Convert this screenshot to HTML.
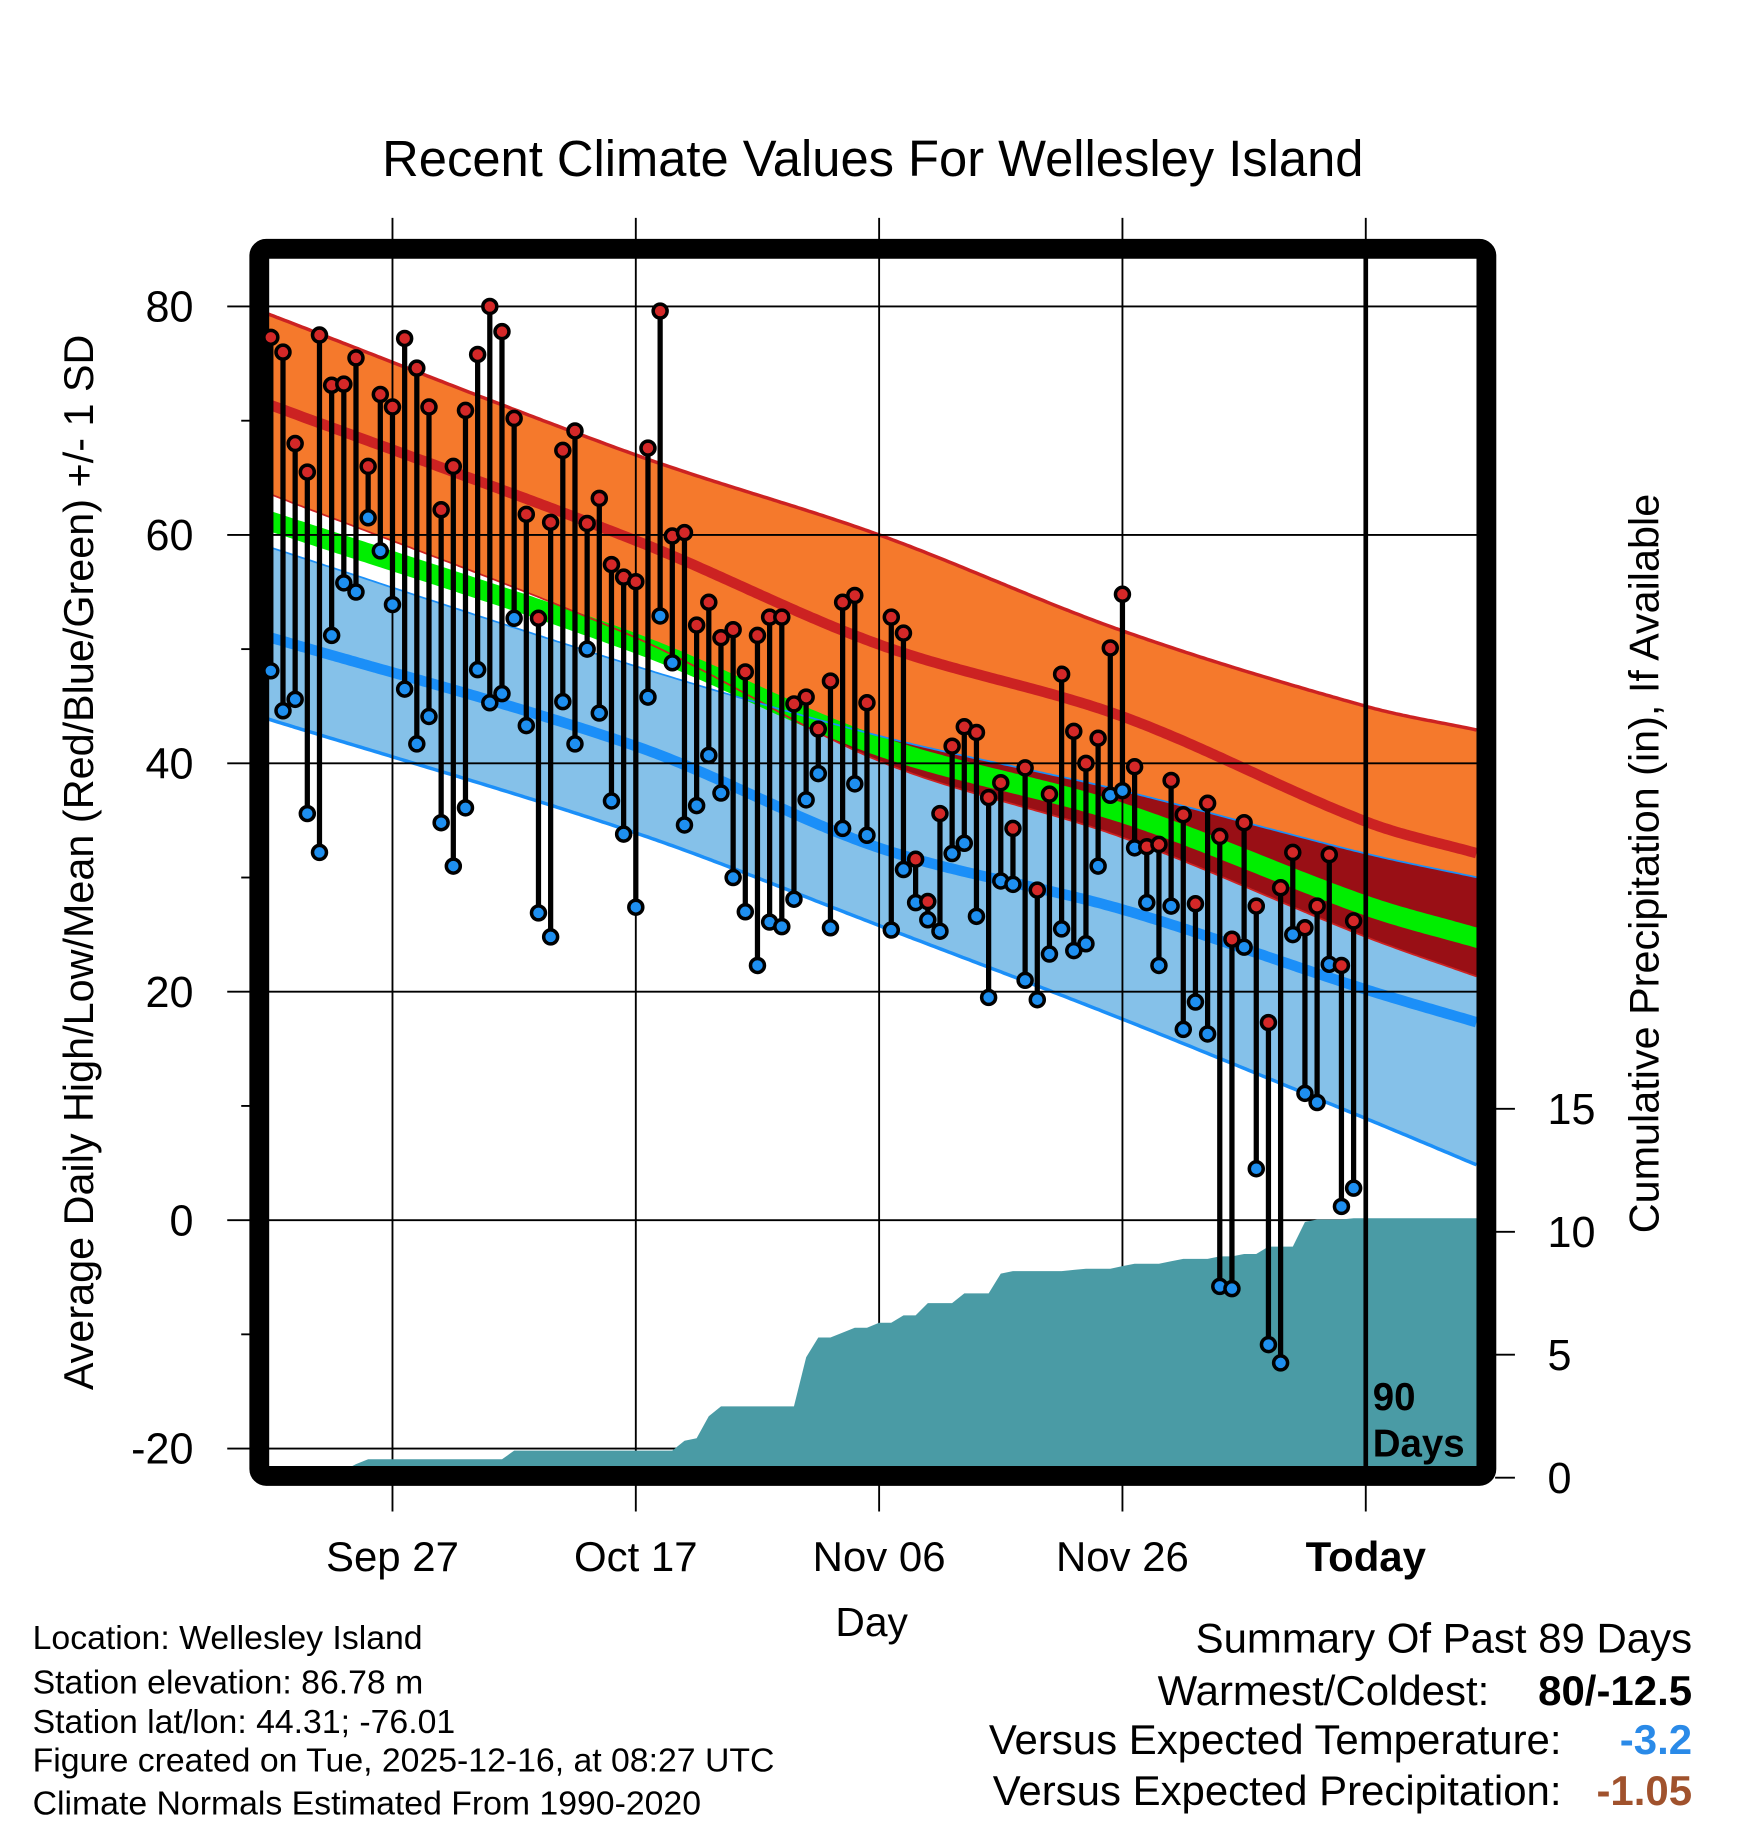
<!DOCTYPE html>
<html><head><meta charset="utf-8"><style>
html,body{margin:0;padding:0;background:#fff;}
svg{display:block;font-family:"Liberation Sans",Arial,sans-serif;}
</style></head><body>
<svg id="chart" width="1748" height="1828" viewBox="0 0 1500 1568.6" preserveAspectRatio="none" xmlns="http://www.w3.org/2000/svg">
<text x="749" y="151" font-size="43.5" text-anchor="middle">Recent Climate Values For Wellesley Island</text>
<g id="bands"></g>
<g id="grid"></g>
<g id="precip"></g>
<g id="frame"></g>
<g id="marks"></g>
<g id="labels"></g>
<text transform="translate(80,740) rotate(-90)" font-size="35.5" text-anchor="middle">Average Daily High/Low/Mean (Red/Blue/Green) +/- 1 SD</text>
<text transform="translate(1423,741) rotate(-90)" font-size="35.5" text-anchor="middle">Cumulative Precipitation (in), If Available</text>
<text x="748" y="1404" font-size="35" text-anchor="middle">Day</text>
<g font-size="29">
<text x="28" y="1415">Location: Wellesley Island</text>
<text x="28" y="1453">Station elevation: 86.78 m</text>
<text x="28" y="1487">Station lat/lon: 44.31; -76.01</text>
<text x="28" y="1520">Figure created on Tue, 2025-12-16, at 08:27 UTC</text>
<text x="28" y="1557">Climate Normals Estimated From 1990-2020</text>
</g>
<g font-size="36">
<text x="1452" y="1418" text-anchor="end">Summary Of Past 89 Days</text>
<text x="1278" y="1463" text-anchor="end">Warmest/Coldest:</text>
<text x="1452" y="1463" text-anchor="end" font-weight="bold">80/-12.5</text>
<text x="1340" y="1505" text-anchor="end">Versus Expected Temperature:</text>
<text x="1452" y="1505" text-anchor="end" font-weight="bold" fill="#2a8ae8">-3.2</text>
<text x="1340" y="1549" text-anchor="end">Versus Expected Precipitation:</text>
<text x="1452" y="1549" text-anchor="end" font-weight="bold" fill="#a0522d">-1.05</text>
</g>
</svg>
<script>
// ---- data ----
const normDays   = [-90.6, -60, -40, -20, 0, 9.2];
const highPlus   = [79.5, 67, 60, 51.6, 45, 42.9];
const highMean   = [71.6, 59.5, 50.4, 44.1, 34.9, 32.1];
const highMinus  = [63.8, 51, 40.2, 33.5, 24.8, 21.3];
const lowPlus    = [59.1, 48.5, 42.4, 37.6, 32.1, 30.0];
const lowMean    = [51.2, 41.5, 32.6, 27.2, 20.2, 17.3];
const lowMinus   = [44.0, 33.9, 25.8, 17.6, 8.9, 4.8];
const dayHigh = [77.3,76,68,65.5,77.5,73.1,73.2,75.5,66,72.3,71.2,77.2,74.6,71.2,62.2,66,70.9,75.8,80,77.8,70.2,61.8,52.7,61.1,67.4,69.1,61,63.2,57.4,56.3,55.9,67.6,79.6,59.9,60.2,52.1,54.1,51,51.7,48,51.2,52.8,52.8,45.2,45.8,43,47.2,54.1,54.7,45.3,null,52.8,51.4,31.6,27.9,35.6,41.5,43.2,42.7,37,38.3,34.3,39.6,28.9,37.3,47.8,42.8,40,42.2,50.1,54.8,39.7,32.7,32.9,38.5,35.5,27.7,36.5,33.6,24.6,34.8,27.5,17.3,29.1,32.2,25.6,27.5,32,22.3,26.2];
const dayLow = [48.1,44.6,45.6,35.6,32.2,51.2,55.8,55,61.5,58.6,53.9,46.5,41.7,44.1,34.8,31,36.1,48.2,45.3,46.1,52.7,43.3,26.9,24.8,45.4,41.7,50,44.4,36.7,33.8,27.4,45.8,52.9,48.8,34.6,36.3,40.7,37.4,30,27,22.3,26.1,25.7,28.1,36.8,39.1,25.6,34.3,38.2,33.7,null,25.4,30.7,27.8,26.3,25.3,32.1,33,26.6,19.5,29.7,29.4,21,19.3,23.3,25.5,23.6,24.2,31,37.2,37.6,32.6,27.8,22.3,27.5,16.7,19.1,16.3,-5.8,-6,23.9,4.5,-10.9,-12.5,25,11.1,10.3,22.4,1.2,2.8];
const cumPrecip = [0,0,0,0,0,0.05,0.3,0.55,0.75,0.75,0.75,0.75,0.75,0.75,0.75,0.75,0.75,0.75,0.75,0.75,1.1,1.1,1.1,1.1,1.1,1.1,1.1,1.1,1.1,1.1,1.1,1.1,1.1,1.1,1.5,1.6,2.5,2.9,2.9,2.9,2.9,2.9,2.9,2.9,4.9,5.7,5.7,5.9,6.1,6.1,6.3,6.3,6.6,6.6,7.1,7.1,7.1,7.5,7.5,7.5,8.3,8.4,8.4,8.4,8.4,8.4,8.45,8.5,8.5,8.5,8.6,8.7,8.7,8.7,8.8,8.9,8.9,8.9,9.0,9.0,9.1,9.1,9.4,9.4,9.4,10.4,10.5,10.5,10.5,10.55];
const yTicks = [80,60,40,20,0,-20];
const yMinor = [70,50,30,10,-10];
const pTicks = [0,5,10,15];
const xTickDays = [-80,-60,-40,-20,0];
const xTickLabels = ["Sep 27","Oct 17","Nov 06","Nov 26","Today"];

// ---- scales ----
const X0=226, X1=1268;
const xs = d => 1172 + d*10.44;
const ys = v => 1047 - 9.8*v;
const yp = p => 1268 - 21.1*p;
const NS="http://www.w3.org/2000/svg";
function mk(tag, attrs, parent){const e=document.createElementNS(NS,tag);for(const k in attrs)e.setAttribute(k,attrs[k]);parent.appendChild(e);return e;}
// smooth cubic Hermite interpolation through anchors
function interp(arr,d){
  const n=normDays.length;
  let i=0; while(i<n-2 && d>normDays[i+1]) i++;
  const x0=normDays[i], x1=normDays[i+1], h=x1-x0;
  const slope=k=>{
    if(k===0) return (arr[1]-arr[0])/(normDays[1]-normDays[0]);
    if(k===n-1) return (arr[n-1]-arr[n-2])/(normDays[n-1]-normDays[n-2]);
    return (arr[k+1]-arr[k-1])/(normDays[k+1]-normDays[k-1]);
  };
  const t=(d-x0)/h, m0=slope(i)*h, m1=slope(i+1)*h;
  const t2=t*t, t3=t2*t;
  return (2*t3-3*t2+1)*arr[i]+(t3-2*t2+t)*m0+(-2*t3+3*t2)*arr[i+1]+(t3-t2)*m1;
}
const samples=[];for(let x=X0;x<=X1+0.01;x+=3)samples.push(x);
const dOf = x => (x-1172)/10.44;
function bandPath(fTop,fBot){let p="";samples.forEach((x,i)=>{p+=(i?"L":"M")+x.toFixed(1)+","+ys(fTop(dOf(x))).toFixed(1);});for(let i=samples.length-1;i>=0;i--){const x=samples[i];p+="L"+x.toFixed(1)+","+ys(fBot(dOf(x))).toFixed(1);}return p+"Z";}
function linePath(f){let p="";samples.forEach((x,i)=>{p+=(i?"L":"M")+x.toFixed(1)+","+ys(f(dOf(x))).toFixed(1);});return p;}

const bands=document.getElementById('bands');
let e;
e=mk('path',{d:bandPath(d=>interp(lowPlus,d),d=>interp(lowMinus,d)),fill:'#85c1e9'},bands);

e=mk('path',{d:bandPath(d=>interp(highPlus,d),d=>interp(highMinus,d)),fill:'#f5792c'},bands);

e=mk('path',{d:bandPath(d=>Math.max(interp(lowPlus,d),interp(highMinus,d)),d=>interp(highMinus,d)),fill:'#990f15'},bands);

const meanF=d=>(interp(highMean,d)+interp(lowMean,d))/2;
e=mk('path',{d:bandPath(d=>meanF(d)+0.9,d=>meanF(d)-0.9),fill:'#00ee00'},bands);

e=mk('path',{d:linePath(d=>interp(highMean,d)),fill:'none',stroke:'#cc2222','stroke-width':9},bands);

e=mk('path',{d:linePath(d=>interp(lowMean,d)),fill:'none',stroke:'#1b8ff8','stroke-width':9},bands);

e=mk('path',{d:linePath(d=>interp(highPlus,d)),fill:'none',stroke:'#cc2222','stroke-width':3},bands);

e=mk('path',{d:linePath(d=>interp(highMinus,d)),fill:'none',stroke:'#cc2222','stroke-width':1.5},bands);

e=mk('path',{d:linePath(d=>interp(lowPlus,d)),fill:'none',stroke:'#1b8ff8','stroke-width':1.5},bands);

e=mk('path',{d:linePath(d=>interp(lowMinus,d)),fill:'none',stroke:'#1b8ff8','stroke-width':3},bands);


// grid
const grid=document.getElementById('grid'), labels=document.getElementById('labels');
yTicks.forEach(v=>{
  e=mk('line',{x1:195,x2:X1,y1:ys(v),y2:ys(v),stroke:'#000','stroke-width':1.6},grid);
  
  e=mk('text',{x:166,y:ys(v)+13,'font-size':37,'text-anchor':'end'},labels);e.textContent=v;
  
});
yMinor.forEach(v=>{
  e=mk('line',{x1:207,x2:218,y1:ys(v),y2:ys(v),stroke:'#000','stroke-width':1.6},grid);
  
});
xTickDays.forEach((d,i)=>{
  e=mk('line',{x1:xs(d),x2:xs(d),y1:187,y2:1297,stroke:'#000','stroke-width':1.6},grid);
  
  e=mk('text',{x:xs(d),y:1348,'font-size':36,'text-anchor':'middle'},labels);e.textContent=xTickLabels[i];
  if(xTickLabels[i]==='Today')e.setAttribute('font-weight','bold');
  
});
pTicks.forEach(p=>{
  e=mk('line',{x1:1283,x2:1300,y1:yp(p),y2:yp(p),stroke:'#000','stroke-width':1.6},grid);
  
  e=mk('text',{x:1328,y:yp(p)+13,'font-size':37},labels);e.textContent=p;
  
});

// precip
const pg=document.getElementById('precip');
let pp="M"+X0+","+yp(0)+"L"+xs(-90)+","+yp(0);
cumPrecip.forEach((v,i)=>{pp+="L"+xs(-90+i).toFixed(1)+","+yp(v).toFixed(1);});
pp+="L"+X1+","+yp(cumPrecip[cumPrecip.length-1]).toFixed(1)+"L"+X1+","+yp(0)+"Z";
e=mk('path',{d:pp,fill:'#4a9ba5'},pg);


// frame
const fr=document.getElementById('frame');
e=mk('rect',{x:222.5,y:213.5,width:1053,height:1053,fill:'none',stroke:'#000','stroke-width':17,rx:6},fr);

e=mk('line',{x1:xs(0),x2:xs(0),y1:215,y2:1265,stroke:'#000','stroke-width':4},fr);

e=mk('text',{x:1178,y:1210,'font-size':33,'font-weight':'bold'},fr);e.textContent='90';

e=mk('text',{x:1178,y:1250,'font-size':33,'font-weight':'bold'},fr);e.textContent='Days';


// daily marks
const mg=document.getElementById('marks');
dayHigh.forEach((h,i)=>{
  const l=dayLow[i]; if(h==null||l==null)return;
  const x=xs(-90+i);
  e=mk('line',{x1:x,x2:x,y1:ys(h),y2:ys(l),stroke:'#000','stroke-width':4.5},mg);
  
});
dayHigh.forEach((h,i)=>{
  const l=dayLow[i]; if(h==null||l==null)return;
  const x=xs(-90+i);
  e=mk('circle',{cx:x,cy:ys(l),r:6,fill:'#1e8ff0',stroke:'#000','stroke-width':3},mg);
  
  e=mk('circle',{cx:x,cy:ys(h),r:6,fill:'#d42828',stroke:'#000','stroke-width':3},mg);
  
});
</script>
</body></html>
